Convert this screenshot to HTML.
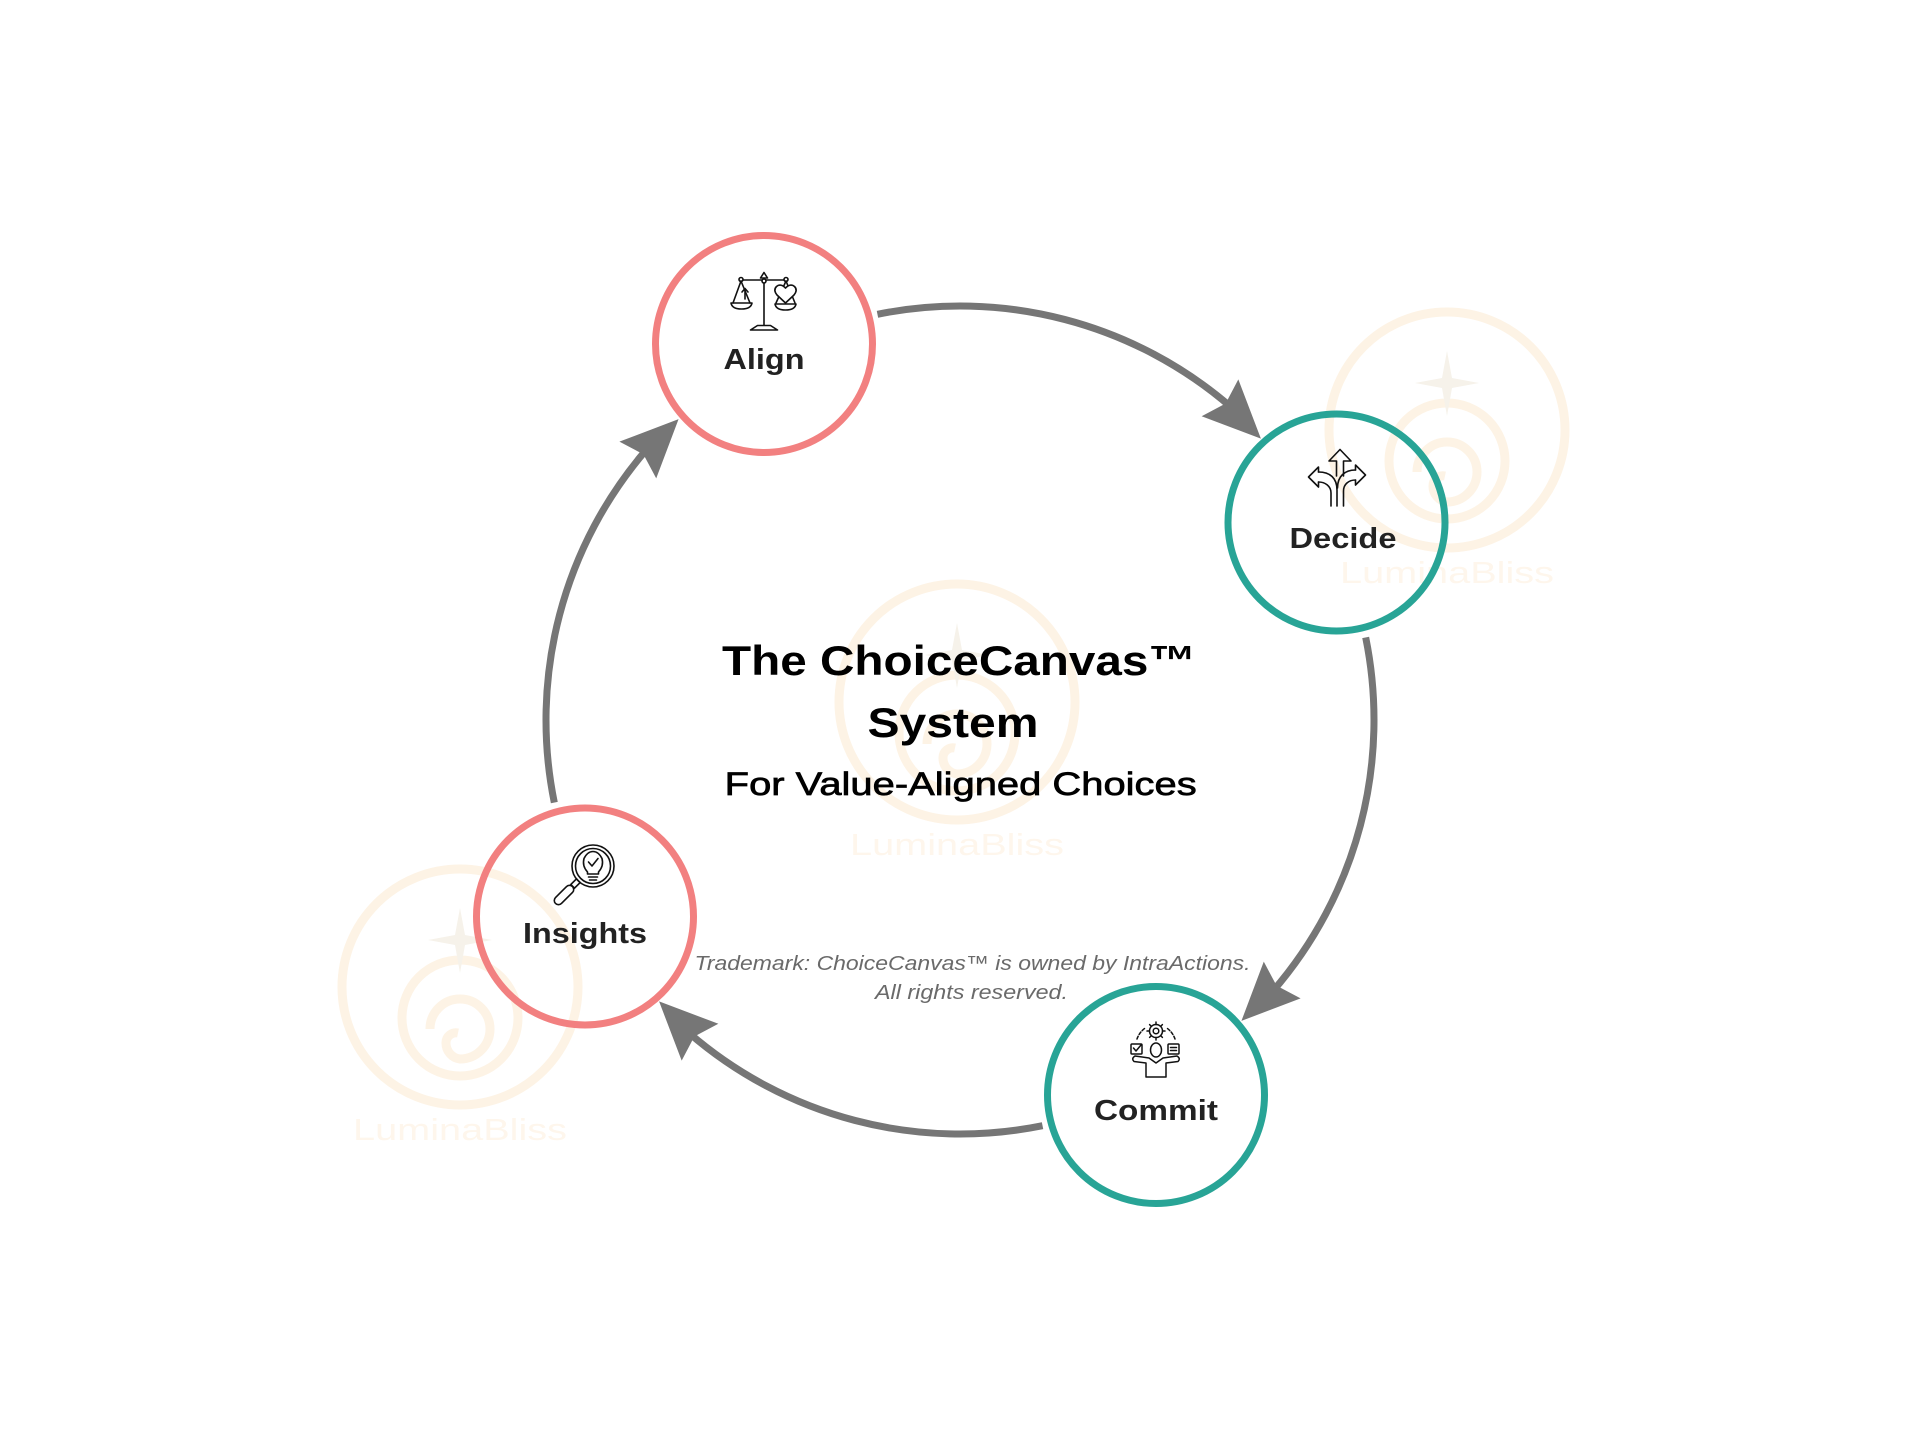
<!DOCTYPE html>
<html>
<head>
<meta charset="utf-8">
<style>
  html, body { margin:0; padding:0; background:#ffffff; }
  body { width:1920px; height:1440px; overflow:hidden; }
  svg { display:block; }
</style>
</head>
<body>
<svg width="1920" height="1440" viewBox="0 0 1920 1440" xmlns="http://www.w3.org/2000/svg">
  <rect width="1920" height="1440" fill="#ffffff"/>

  <!-- Watermarks -->
  <g transform="translate(1447,430)">
    <circle cx="0" cy="0" r="118" fill="none" stroke="#FDF3E5" stroke-width="9"/>
    <circle cx="0" cy="31" r="58" fill="none" stroke="#FDF3E5" stroke-width="9"/>
    <path d="M -30 42 A 30 30 0 1 1 0 72 A 16 16 0 0 1 -14 56 A 10 10 0 0 1 -2 46" fill="none" stroke="#FDF3E5" stroke-width="9"/>
    <path d="M0,-79 L5,-52 L32,-47 L5,-42 L0,-14 L-5,-42 L-32,-47 L-5,-52 Z" fill="#F6F2EA"/>
    <text x="0" y="153" text-anchor="middle" font-family="Liberation Sans, sans-serif" font-size="31" fill="#FEF6EC" textLength="214" lengthAdjust="spacingAndGlyphs">LuminaBliss</text>
  </g>
  <g transform="translate(957,702)">
    <circle cx="0" cy="0" r="118" fill="none" stroke="#FDF3E5" stroke-width="9"/>
    <circle cx="0" cy="31" r="58" fill="none" stroke="#FDF3E5" stroke-width="9"/>
    <path d="M -30 42 A 30 30 0 1 1 0 72 A 16 16 0 0 1 -14 56 A 10 10 0 0 1 -2 46" fill="none" stroke="#FDF3E5" stroke-width="9"/>
    <path d="M0,-79 L5,-52 L32,-47 L5,-42 L0,-14 L-5,-42 L-32,-47 L-5,-52 Z" fill="#F6F2EA"/>
    <text x="0" y="153" text-anchor="middle" font-family="Liberation Sans, sans-serif" font-size="31" fill="#FEF6EC" textLength="214" lengthAdjust="spacingAndGlyphs">LuminaBliss</text>
  </g>
  <g transform="translate(460,987)">
    <circle cx="0" cy="0" r="118" fill="none" stroke="#FDF3E5" stroke-width="9"/>
    <circle cx="0" cy="31" r="58" fill="none" stroke="#FDF3E5" stroke-width="9"/>
    <path d="M -30 42 A 30 30 0 1 1 0 72 A 16 16 0 0 1 -14 56 A 10 10 0 0 1 -2 46" fill="none" stroke="#FDF3E5" stroke-width="9"/>
    <path d="M0,-79 L5,-52 L32,-47 L5,-42 L0,-14 L-5,-42 L-32,-47 L-5,-52 Z" fill="#F6F2EA"/>
    <text x="0" y="153" text-anchor="middle" font-family="Liberation Sans, sans-serif" font-size="31" fill="#FEF6EC" textLength="214" lengthAdjust="spacingAndGlyphs">LuminaBliss</text>
  </g>

  <!-- Connector arcs -->
  <g fill="none" stroke="#767676" stroke-width="7">
    <path d="M877.46,314.31 A414,414 0 0 1 1231.06,407.08"/>
    <path d="M1365.69,637.46 A414,414 0 0 1 1272.92,991.06"/>
    <path d="M1042.54,1125.69 A414,414 0 0 1 688.94,1032.92"/>
    <path d="M554.31,802.54 A414,414 0 0 1 647.08,448.94"/>
  </g>
  <g fill="#767676">
    <polygon points="1260.9,438.6 1201.63,416.22 1225.64,403.46 1238.33,379.40"/>
    <polygon points="1241.42,1020.91 1263.78,961.63 1276.54,985.64 1300.60,998.33"/>
    <polygon points="659.09,1001.42 718.37,1023.78 694.36,1036.54 681.67,1060.60"/>
    <polygon points="678.58,419.09 656.22,478.37 643.46,454.36 619.40,441.67"/>
  </g>

  <!-- Node circles -->
  <circle cx="764" cy="344" r="108.5" fill="none" stroke="#F28080" stroke-width="7"/>
  <circle cx="1336.5" cy="522.5" r="108.5" fill="none" stroke="#28A496" stroke-width="7"/>
  <circle cx="1156" cy="1095" r="108.5" fill="none" stroke="#28A496" stroke-width="7"/>
  <circle cx="585" cy="916.5" r="108.5" fill="none" stroke="#F28080" stroke-width="7"/>

  <!-- Align icon -->
  <g stroke="#111" stroke-width="1.6" fill="none" stroke-linecap="round" stroke-linejoin="round">
    <line x1="764" y1="277" x2="764" y2="325"/>
    <path d="M760.5,278 L764,272.5 L767.5,278 Z" fill="#fff"/>
    <line x1="741" y1="280" x2="786" y2="280"/>
    <circle cx="741" cy="279.5" r="2" fill="#fff"/>
    <circle cx="786" cy="279.5" r="2" fill="#fff"/>
    <circle cx="764" cy="281" r="2" fill="#fff"/>
    <path d="M741,281 L733,303 M741,281 L750,303"/>
    <path d="M731,303 L752,303 Q751,309 741.5,309 Q732,309 731,303 Z"/>
    <path d="M745,299 L745,289 M742,292 L745,288.5 L748,292"/>
    <path d="M786,281 L776,303 M786,281 L795,303"/>
    <path d="M785.5,303 L777,295 Q773,290 776.5,286.5 Q780.5,283 785.5,288 Q790.5,283 794.5,286.5 Q798,290 794,295 Z" fill="#fff"/>
    <path d="M775,304 L796,304 Q795,310 785.5,310 Q776,310 775,304 Z"/>
    <path d="M757.5,325.5 L770.5,325.5 L777.5,330 L750.5,330 Z"/>
  </g>

  <!-- Decide icon -->
  <g stroke="#111" stroke-width="1.6" fill="none" stroke-linecap="round" stroke-linejoin="round">
    <path d="M1336.5,476 L1336.5,461 L1329,461 L1340,449.5 L1351,461 L1343.5,461 L1343.5,476"/>
    <path d="M1318.5,472 L1318.5,467 L1308.5,477 L1318.5,487 L1318.5,482"/>
    <path d="M1318.5,472 C1330,472 1337,478 1337,490 L1337,506"/>
    <path d="M1318.5,482 C1325,482 1331,486 1331,493 L1331,506"/>
    <path d="M1355.5,470 L1355.5,465 L1365.5,475 L1355.5,485 L1355.5,480"/>
    <path d="M1355.5,470 C1345,470 1337.5,476 1337.5,488"/>
    <path d="M1355.5,480 C1349,480 1343.5,484 1343.5,491 L1343.5,506"/>
  </g>

  <!-- Insights icon -->
  <g stroke="#111" stroke-width="1.6" fill="none" stroke-linecap="round" stroke-linejoin="round">
    <circle cx="593" cy="866" r="21"/>
    <circle cx="593" cy="866" r="17.5"/>
    <path d="M587.5,872 Q582,866 584,858.5 Q587.5,851.5 593,851.5 Q598.5,851.5 602,858.5 Q604,866 598.5,872 L598.5,874 L587.5,874 Z"/>
    <path d="M588.5,877 L597.5,877 M589.5,880 L596.5,880"/>
    <path d="M588.5,862 L592,866 L598,858.5"/>
    <rect x="-4" y="-2.6" width="8" height="5.2" transform="translate(575.5,883.5) rotate(-45)"/>
    <rect x="-12" y="-4.2" width="24" height="8.4" rx="4.2" transform="translate(564,895) rotate(-45)"/>
  </g>

  <!-- Commit icon -->
  <g stroke="#111" stroke-width="1.5" fill="none" stroke-linecap="round" stroke-linejoin="round">
    <circle cx="1156" cy="1031" r="6.5"/>
    <circle cx="1156" cy="1031" r="2.8"/>
    <path d="M1156,1024.5 L1156,1022 M1156,1037.5 L1156,1040 M1149.5,1031 L1147,1031 M1162.5,1031 L1165,1031 M1151.4,1026.4 L1149.6,1024.6 M1160.6,1026.4 L1162.4,1024.6 M1151.4,1035.6 L1149.6,1037.4 M1160.6,1035.6 L1162.4,1037.4"/>
    <path d="M1137,1039 A22,22 0 0 1 1146,1027.5" stroke-dasharray="3 2"/>
    <path d="M1175,1039 A22,22 0 0 0 1166,1027.5" stroke-dasharray="3 2"/>
    <rect x="1131" y="1044" width="11" height="10" rx="1"/>
    <path d="M1133.5,1048 L1136,1051 L1141,1045"/>
    <rect x="1168" y="1044" width="11" height="10" rx="1"/>
    <path d="M1170.5,1047.5 L1176.5,1047.5 M1170.5,1050.5 L1176.5,1050.5"/>
    <ellipse cx="1156" cy="1050" rx="5.5" ry="7"/>
    <path d="M1135,1056 Q1131,1058.5 1134,1061.5 L1146,1063 L1146,1077 L1166,1077 L1166,1063 L1178,1061.5 Q1181,1058.5 1177,1056 L1163,1058 L1156,1063 L1149,1058 Z"/>
  </g>

  <!-- Node labels -->
  <g font-family="Liberation Sans, sans-serif" font-weight="bold" font-size="29" fill="#222222" text-anchor="middle">
    <text x="764" y="369" textLength="81" lengthAdjust="spacingAndGlyphs">Align</text>
    <text x="1343" y="548" textLength="107" lengthAdjust="spacingAndGlyphs">Decide</text>
    <text x="1156" y="1120" textLength="124" lengthAdjust="spacingAndGlyphs">Commit</text>
    <text x="585" y="943" textLength="124" lengthAdjust="spacingAndGlyphs">Insights</text>
  </g>

  <!-- Title -->
  <g font-family="Liberation Sans, sans-serif" fill="#000000" text-anchor="middle">
    <text x="959" y="675" font-size="42" font-weight="bold" textLength="474" lengthAdjust="spacingAndGlyphs">The ChoiceCanvas™</text>
    <text x="953" y="737" font-size="42" font-weight="bold" textLength="171" lengthAdjust="spacingAndGlyphs">System</text>
    <text x="960.7" y="795" font-size="32" stroke="#000" stroke-width="0.7" textLength="472" lengthAdjust="spacingAndGlyphs">For Value-Aligned Choices</text>
  </g>

  <!-- Trademark -->
  <g font-family="Liberation Sans, sans-serif" font-style="italic" font-size="20.5" fill="#6a6a6a" text-anchor="middle">
    <text x="972.5" y="970" textLength="556" lengthAdjust="spacingAndGlyphs">Trademark: ChoiceCanvas™ is owned by IntraActions.</text>
    <text x="971.5" y="999" textLength="193" lengthAdjust="spacingAndGlyphs">All rights reserved.</text>
  </g>
</svg>
</body>
</html>
